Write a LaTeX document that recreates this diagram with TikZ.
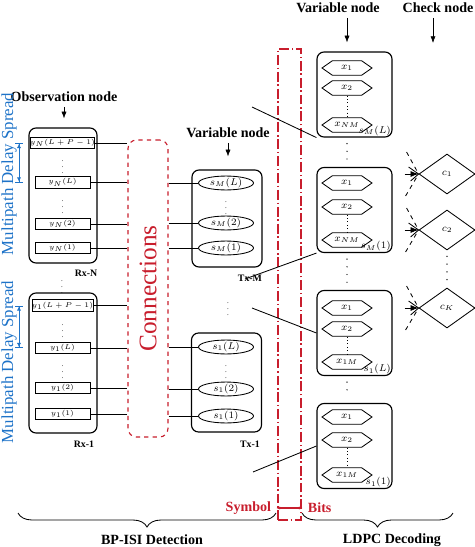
\documentclass[tikz,border=0pt]{standalone}
\usepackage{fontspec}
\setmainfont{Liberation Serif}
\usetikzlibrary{arrows.meta, positioning, shapes.geometric, shapes.symbols, decorations.pathreplacing, calc}
\definecolor{sigred}{RGB}{200,30,45}
\definecolor{spreadblue}{RGB}{30,115,200}
\tikzset{grp/.style={rectangle,draw,thick,rounded corners=5pt,inner sep=0pt},
  obs/.style={rectangle,draw,semithick,inner sep=0pt,minimum width=13.75mm,minimum height=2.9mm,font=\tiny},
  var/.style={ellipse,draw,semithick,inner sep=0pt,minimum width=13.75mm,minimum height=3.3mm,font=\scriptsize},
  bit/.style={signal,signal to=east and west,signal pointer angle=70,draw,semithick,inner xsep=0pt,inner ysep=1.1mm,minimum width=12.5mm,font=\scriptsize},
  chk/.style={diamond,draw,semithick,inner sep=0pt,minimum width=14mm,minimum height=10mm,font=\scriptsize},
  head/.style={font=\bfseries},
  tag/.style={font=\scriptsize\bfseries,inner sep=1pt},
  vd/.style={font=\tiny,inner sep=0pt},
  line/.style={-Latex},
  wire/.style={semithick},
  vdots/.style={line width=1pt,line cap=round,dash pattern=on 0pt off 5.5pt},
  spread/.style={spreadblue,semithick,{Bar[width=5pt]Latex[length=3pt,width=3pt]}-{Latex[length=3pt,width=3pt]Bar[width=5pt]}},
  brc/.style={decorate,decoration={brace,amplitude=3.5mm},semithick}}

\begin{document}
\begin{tikzpicture}[x=0.25mm,y=-0.25mm]
\useasboundingbox (0,0) rectangle (474,547);

\node[grp,minimum width=17mm,minimum height=33.75mm] (rxN) at (63,195.5) {};
\node[obs] (yN4) at (62.5,143) {$y_N(L+P-1)$};
\node[vd] at (62.5,163) {$\vdots$};
\node[obs] (yN3) at (62.5,182.5) {$y_N(L)$};
\node[vd] at (62.5,203) {$\vdots$};
\node[obs] (yN2) at (62.5,224) {$y_N(2)$};
\node[obs] (yN1) at (62.5,248) {$y_N(1)$};
\node[tag] (rxNlab) at (86,273) {Rx-N};
\node[vd] at (62,283) {$\vdots$};
\node[grp,minimum width=17mm,minimum height=35mm] (rx1) at (63,363) {};
\node[obs] (y14) at (62.5,305.5) {$y_1(L+P-1)$};
\node[vd] at (62.5,327) {$\vdots$};
\node[obs] (y13) at (62.5,348) {$y_1(L)$};
\node[vd] at (62.5,368) {$\vdots$};
\node[obs] (y12) at (62.5,388) {$y_1(2)$};
\node[obs] (y11) at (62.5,414) {$y_1(1)$};
\node[tag] (rx1lab) at (84,444) {Rx-1};

\node[head] (obsl) at (64,97) {Observation node};
\draw[line,shorten >=2.25mm] (obsl.south) -- (obsl.south |- rxN.north);

\node[rotate=90,text=spreadblue,font=\large] (mpN) at (9,174) {Multipath Delay Spread};
\node[rotate=90,text=spreadblue,font=\large] (mp1) at (9,362) {Multipath Delay Spread};
\coordinate (mpx) at (19,0);
\draw[spread] (mpx |- yN4) -- (mpx |- yN3);
\draw[spread] (mpx |- y14) -- (mpx |- y13);

\node[draw=sigred,dashed,thick,rounded corners=6pt,minimum width=10mm,minimum height=74.25mm] (conn) at (148,288.5) {};
\node[rotate=90,text=sigred,font=\fontsize{18}{20}\selectfont] at (conn) {Connections};
\foreach \n in {yN4,yN3,yN2,yN1,y14,y13,y12,y11}
  \draw[wire] (\n.east) -- (\n.east -| conn.west);

\node[grp,minimum width=17.5mm,minimum height=24.25mm] (txM) at (227,218.5) {};
\node[var] (sM3) at (226,183) {$s_M(L)$};
\node[vd] at (226,204) {$\vdots$};
\node[var] (sM2) at (226,223) {$s_M(2)$};
\node[var] (sM1) at (226,248) {$s_M(1)$};
\node[tag] (txMlab) at (250,278) {Tx-M};
\node[vd] at (228,305) {$\vdots$};
\node[grp,minimum width=17.5mm,minimum height=24.75mm] (tx1) at (226.5,382.5) {};
\node[var] (s13) at (226,347) {$s_1(L)$};
\node[vd] at (226,368) {$\vdots$};
\node[var] (s12) at (226,389) {$s_1(2)$};
\node[var] (s11) at (226,416) {$s_1(1)$};
\node[tag] (tx1lab) at (250,444) {Tx-1};
\foreach \n in {sM3,sM2,sM1,s13,s12,s11}
  \draw[wire] (\n.west -| conn.east) -- (\n.west);

\node[head] (vnA) at (228,133) {Variable node};
\draw[line,shorten >=3.25mm] (vnA.south) -- (vnA.south |- txM.north);

\node[draw=sigred,thick,dash pattern=on 7pt off 2pt on 1pt off 2pt,inner sep=0pt,minimum width=5.75mm,minimum height=117.75mm] (sb) at (289.5,284.5) {};
\node[head,text=sigred,anchor=east] (sym) at (276,508) {Symbol};
\node[head,text=sigred,anchor=west] (bit) at (303,508) {Bits};
\draw[sigred,thick,{Latex[length=3pt]}-{Latex[length=3pt]}] (sym.east) -- (bit.west);

\foreach \b/\cy/\ya/\yb/\yc/\lx/\st in {b1/94.5/68/88/125/x_{NM}/s_M(L), b2/210/183/207/240/x_{NM}/s_M(1), b3/333/308/329/362/x_{1M}/s_1(L), b4/446/417/440/475/x_{1M}/s_1(1)}{
  \node[grp,minimum width=18.75mm,minimum height=21.25mm] (\b) at (354.5,\cy) {};
  \node[bit] (\b-h1) at (347,\ya) {$x_1$};
  \node[bit] (\b-h2) at (347,\yb) {$x_2$};
  \node[bit] (\b-h3) at (347,\yc) {$\lx$};
  \draw[dotted] (\b-h2.south) -- (\b-h3.north);
  \node[anchor=south east,inner sep=1pt,font=\scriptsize] at (\b.south east) {$\st$};
}
\draw[vdots,shorten <=1.5mm,shorten >=1.5mm] (b1-h3 |- b1.south) -- (b2-h1 |- b2.north);
\draw[vdots,shorten <=1.5mm,shorten >=1.5mm] (b2-h3 |- b2.south) -- (b3-h1 |- b3.north);
\draw[vdots,shorten <=1.5mm,shorten >=1.5mm] (b3-h3 |- b3.south) -- (b4-h1 |- b4.north);

\coordinate (t1) at (252,107);
\coordinate (t2) at (245,279);
\coordinate (t3) at (252,308);
\coordinate (t4) at (253,472);
\draw[wire] (t1) -- (b1.south west);
\draw[wire] (t2) -- (b2.south west);
\draw[wire] (t3) -- (b3.west);
\draw[wire] (t4) -- (b4.west);

\node[head] (vnB) at (338,8) {Variable node};
\draw[line,shorten >=2.25mm] (vnB.south -| b1-h1) -- (b1-h1 |- b1.north);
\node[head] (cnB) at (438,8) {Check node};
\coordinate (cnend) at (433,43);
\draw[line] (cnB.south -| cnend) -- (cnend);

\node[chk] (c1) at (447,174) {$c_1$};
\node[chk] (c2) at (447,230) {$c_2$};
\node[chk] (cK) at (447,308) {$c_K$};
\draw[vdots,shorten <=1.5mm,shorten >=1.5mm] (c2.south) -- (cK.north);
\foreach \c in {c1,c2,cK}{
  \coordinate (\c-i1) at ($(\c.west)+(-12,-22)$);
  \coordinate (\c-i2) at ($(\c.west)+(-10,-7)$);
  \coordinate (\c-i3) at ($(\c.west)+(-14,0)$);
  \coordinate (\c-i4) at ($(\c.west)+(-8,7)$);
  \coordinate (\c-i5) at ($(\c.west)+(-13,22)$);
  \draw[wire,dashed] (\c-i1) -- (\c.west);
  \draw[wire] (\c-i2) -- (\c.west);
  \draw[wire,-Latex] (\c-i3) -- (\c.west);
  \draw[wire] (\c-i4) -- (\c.west);
  \draw[wire,dashed] (\c-i5) -- (\c.west);
}

\coordinate (bpL) at (18,513);
\coordinate (bpR) at (276,513);
\draw[brc] (bpR) -- (bpL);
\node[head] (bpisi) at (152,540) {BP-ISI Detection};
\coordinate (ldL) at (302,513);
\coordinate (ldR) at (453,513);
\draw[brc] (ldR) -- (ldL);
\node[head] (ldpc) at (392,540) {LDPC Decoding};
\end{tikzpicture}
\end{document}
